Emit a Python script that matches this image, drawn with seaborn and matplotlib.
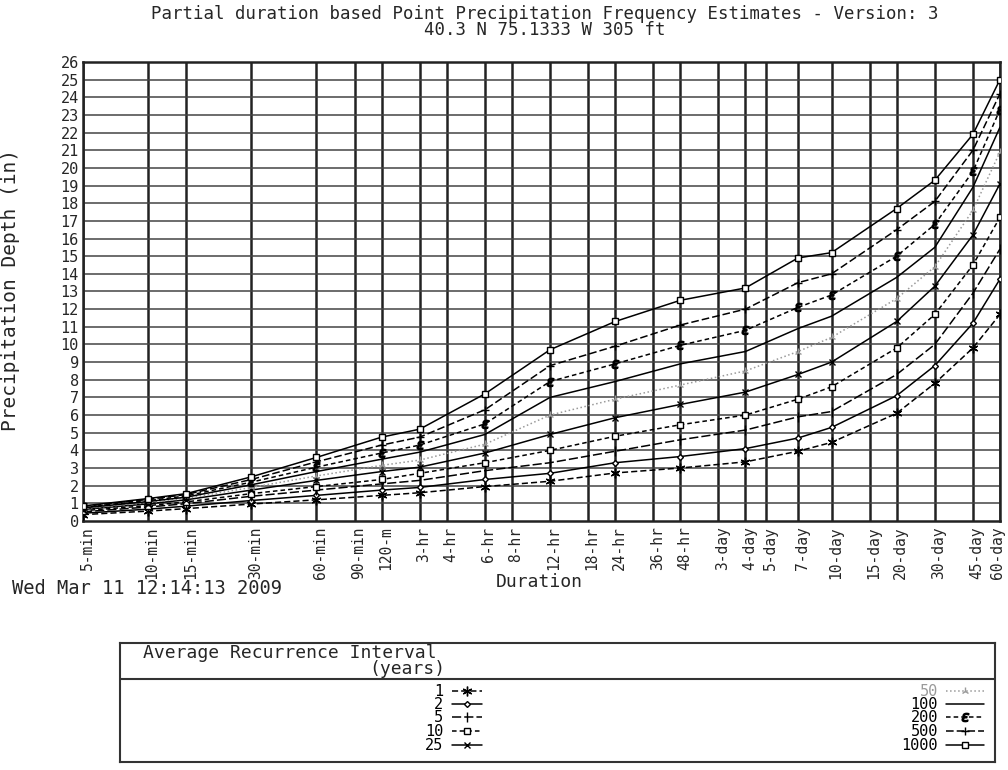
import numpy as np
import pandas as pd
import seaborn as sns
from matplotlib import pyplot as plt
from matplotlib.transforms import ScaledTranslation

# durations (minutes) where estimates exist
durations = [5, 10, 15, 30, 60, 120, 180, 360, 720, 1440, 2880, 5760,
             10080, 14400, 28800, 43200, 64800, 86400]

# x axis ticks
tick_minutes = [5, 10, 15, 30, 60, 90, 120, 180, 240, 360, 480, 720, 1080,
                1440, 2160, 2880, 4320, 5760, 7200, 10080, 14400, 21600,
                28800, 43200, 64800, 86400]
tick_labels = ['5-min', '10-min', '15-min', '30-min', '60-min', '90-min',
               '120-m', '3-hr', '4-hr', '6-hr', '8-hr', '12-hr', '18-hr',
               '24-hr', '36-hr', '48-hr', '3-day', '4-day', '5-day', '7-day',
               '10-day', '15-day', '20-day', '30-day', '45-day', '60-day']

# precipitation depth (in) per average recurrence interval
depth_1 = [0.36, 0.56, 0.70, 0.96, 1.20, 1.45, 1.60, 1.95, 2.25, 2.72,
           3.00, 3.35, 3.95, 4.45, 6.10, 7.80, 9.80, 11.70]
depth_2 = [0.44, 0.67, 0.84, 1.16, 1.45, 1.75, 1.90, 2.35, 2.70, 3.30,
           3.65, 4.10, 4.70, 5.30, 7.10, 8.80, 11.20, 13.70]
depth_5 = [0.52, 0.79, 0.98, 1.40, 1.75, 2.10, 2.30, 2.85, 3.30, 3.95,
           4.60, 5.15, 5.90, 6.20, 8.30, 10.00, 12.90, 15.40]
depth_10 = [0.58, 0.87, 1.08, 1.55, 1.95, 2.35, 2.70, 3.30, 4.00, 4.80,
            5.45, 6.00, 6.90, 7.60, 9.80, 11.70, 14.50, 17.20]
depth_25 = [0.65, 0.97, 1.20, 1.75, 2.30, 2.80, 3.05, 3.85, 4.90, 5.85,
            6.60, 7.30, 8.30, 9.00, 11.30, 13.30, 16.20, 19.10]
depth_50 = [0.70, 1.04, 1.28, 1.90, 2.55, 3.15, 3.45, 4.35, 6.00, 6.90,
            7.70, 8.50, 9.60, 10.40, 12.60, 14.40, 17.60, 20.90]
depth_100 = [0.74, 1.10, 1.35, 2.05, 2.80, 3.50, 3.90, 4.90, 7.00, 7.90,
             8.90, 9.60, 10.90, 11.60, 13.80, 15.50, 18.90, 22.30]
depth_200 = [0.78, 1.15, 1.42, 2.20, 3.05, 3.85, 4.30, 5.50, 7.90, 8.90,
             9.95, 10.80, 12.10, 12.80, 15.00, 16.80, 19.80, 23.30]
depth_500 = [0.82, 1.22, 1.50, 2.35, 3.35, 4.30, 4.75, 6.30, 8.80, 9.90,
             11.10, 12.00, 13.50, 14.00, 16.50, 18.10, 21.00, 24.20]
depth_1000 = [0.85, 1.27, 1.55, 2.50, 3.60, 4.75, 5.20, 7.20, 9.70, 11.30,
              12.50, 13.20, 14.90, 15.20, 17.70, 19.30, 21.90, 25.00]

periods = [1, 2, 5, 10, 25, 50, 100, 200, 500, 1000]
depths = [depth_1, depth_2, depth_5, depth_10, depth_25, depth_50,
          depth_100, depth_200, depth_500, depth_1000]

rows = []
for p, d in zip(periods, depths):
    for m, v in zip(durations, d):
        rows.append({'period': p, 'minutes': m, 'depth': v})
df = pd.DataFrame(rows)

# line style per interval: (color, linestyle, marker, markersize)
styles = {
    1: ('black', (0, (4, 2)), (6, 2, 0), 7),
    2: ('black', '-', 'D', 3),
    5: ('black', (0, (6, 2)), '|', 7),
    10: ('black', (0, (3, 2)), 's', 5),
    25: ('black', '-', 'x', 5),
    50: ('#9a9a9a', ':', '2', 6),
    100: ('black', '-', None, 0),
    200: ('black', (0, (3, 2)), '$\\epsilon$', 6),
    500: ('black', (0, (5, 2)), '+', 6),
    1000: ('black', '-', 's', 5),
}

sns.set_style('white')
plt.rcParams['font.family'] = ['DejaVu Sans Mono']

fig = plt.figure(figsize=(10.08, 7.70), dpi=100)
ax = fig.add_axes([0.0823, 0.3234, 0.9097, 0.5961])

for p in periods:
    color, ls, mk, ms = styles[p]
    sns.lineplot(data=df[df['period'] == p], x='minutes', y='depth', ax=ax,
                 color=color, linestyle=ls, marker=mk, markersize=ms,
                 markerfacecolor='white', markeredgecolor=color,
                 markeredgewidth=1.0, lw=1.1, legend=False, zorder=3)

ax.set_xscale('log')
ax.set_xlim(5, 86400)
ax.set_ylim(0, 26)
ax.set_xticks(tick_minutes)
ax.set_xticklabels(tick_labels, rotation=90, fontsize=10.5)
ax.xaxis.set_minor_locator(plt.NullLocator())
ax.set_yticks(range(0, 27))
ax.tick_params(axis='y', labelsize=11, length=0, pad=3)
ax.tick_params(axis='x', length=0, pad=4)
# labels sit a little right of their grid lines, as in the original
xlabels = ax.get_xticklabels()
for i, lab in enumerate(xlabels):
    dx = 4 if i < len(xlabels) - 1 else -2
    lab.set_transform(lab.get_transform() + ScaledTranslation(dx / 100, 0, fig.dpi_scale_trans))
for x in tick_minutes:
    ax.axvline(x, color='#222222', lw=1.8, zorder=1)
for y in range(1, 27):
    ax.axhline(y, color='#444444', lw=1.1, zorder=1)
for s in ax.spines.values():
    s.set_color('#222222')
    s.set_linewidth(1.8)

ax.set_xlabel('Duration', fontsize=13)
ax.xaxis.set_label_coords(0.498, -0.113)
ax.set_ylabel('Precipitation Depth (in)', fontsize=14)
ax.yaxis.set_label_coords(-0.069, 0.503)

fig.text(0.54, 1 - 14 / 770, 'Partial duration based Point Precipitation Frequency Estimates - Version: 3',
         ha='center', va='center', fontsize=12.5)
fig.text(0.54, 1 - 30 / 770, '40.3 N 75.1333 W 305 ft', ha='center', va='center', fontsize=12.5)
fig.text(12 / 1008, 1 - 589 / 770, 'Wed Mar 11 12:14:13 2009', ha='left', va='center',
         fontsize=13.5)

# legend box
lg = fig.add_axes([120 / 1008, 1 - 762 / 770, 875 / 1008, 119 / 770])
lg.set_xlim(120, 995)
lg.set_ylim(762, 643)
lg.set_xticks([])
lg.set_yticks([])
for s in lg.spines.values():
    s.set_color('#333333')
    s.set_linewidth(1.5)
lg.axhline(679, color='#333333', lw=1.5)
lg.text(143, 653, 'Average Recurrence Interval', ha='left', va='center', fontsize=13)
lg.text(445, 669, '(years)', ha='right', va='center', fontsize=13)
entry_y = [691, 704, 717, 731, 745]
for i, p in enumerate(periods):
    color, ls, mk, ms = styles[p]
    if i < 5:
        tx, x0, x1 = 443, 452, 482
    else:
        tx, x0, x1 = 938, 946, 984
    y = entry_y[i % 5]
    lg.text(tx, y, str(p), ha='right', va='center', fontsize=11,
            color='#9a9a9a' if p == 50 else 'black')
    lg.plot([x0, x1], [y, y], color=color, linestyle=ls, lw=1.1)
    if mk is not None:
        lg.plot([(x0 + x1) / 2], [y], color=color, marker=mk, markersize=ms,
                markerfacecolor='white', markeredgecolor=color, markeredgewidth=1.0)

fig.savefig('out.png', dpi=100)
